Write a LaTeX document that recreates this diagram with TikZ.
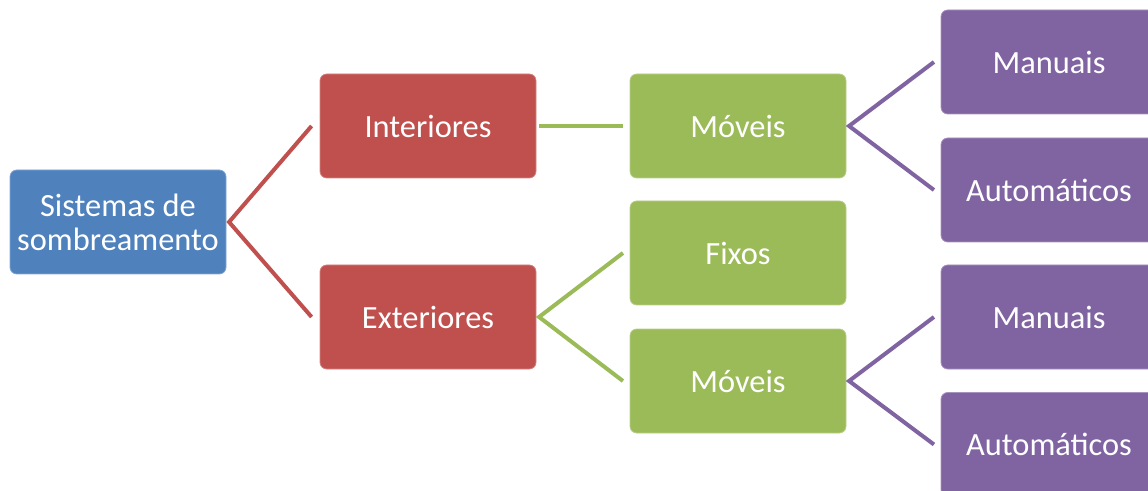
\documentclass[tikz,border=0pt]{standalone}
\usepackage{fontspec}
\setmainfont{Carlito}
\definecolor{cblue}{HTML}{4F81BD}
\definecolor{cred}{HTML}{C0504D}
\definecolor{cgreen}{HTML}{9BBB59}
\definecolor{cpurple}{HTML}{8064A2}
\begin{document}
\begin{tikzpicture}[x=0.75pt,y=-0.75pt,
  box/.style={rectangle,rounded corners=5pt,minimum width=162pt,minimum height=78pt,
    text=white,align=center,font=\fontsize{24.3}{25.5}\selectfont,inner sep=0pt,line width=0.6pt},
  bluebox/.style={box,fill=cblue,draw=cblue!70!white},
  redbox/.style={box,fill=cred,draw=cred!70!white},
  greenbox/.style={box,fill=cgreen,draw=cgreen!70!white},
  purplebox/.style={box,fill=cpurple,draw=cpurple!70!white},
  link/.style={line width=3pt}]
\useasboundingbox (0,0) rectangle (1148,491);
\clip (0,0) rectangle (1148,491);
\node[bluebox] (root) at (118,222) {Sistemas de\\sombreamento};
\node[redbox] (int) at (428,126) {Interiores};
\node[redbox] (ext) at (428,317) {Exteriores};
\node[greenbox] (mov1) at (738,126) {Móveis};
\node[greenbox] (fix) at (738,253) {Fixos};
\node[greenbox] (mov2) at (738,381) {Móveis};
\node[purplebox] (man1) at (1049,62) {Manuais};
\node[purplebox] (aut1) at (1049,190) {Automáticos};
\node[purplebox] (man2) at (1049,317) {Manuais};
\node[purplebox] (aut2) at (1049,444.5) {Automáticos};
\draw[link,cred] ([xshift=-6pt]int.west) -- ([xshift=2pt]root.east) -- ([xshift=-6pt]ext.west);
\draw[link,cgreen] ([xshift=2pt]int.east) -- ([xshift=-5pt]mov1.west);
\draw[link,cgreen] ([xshift=-5pt]fix.west) -- ([xshift=2pt]ext.east) -- ([xshift=-5pt]mov2.west);
\draw[link,cpurple] ([xshift=-5pt]man1.west) -- ([xshift=2pt]mov1.east) -- ([xshift=-5pt]aut1.west);
\draw[link,cpurple] ([xshift=-5pt]man2.west) -- ([xshift=2pt]mov2.east) -- ([xshift=-5pt]aut2.west);
\end{tikzpicture}
\end{document}
